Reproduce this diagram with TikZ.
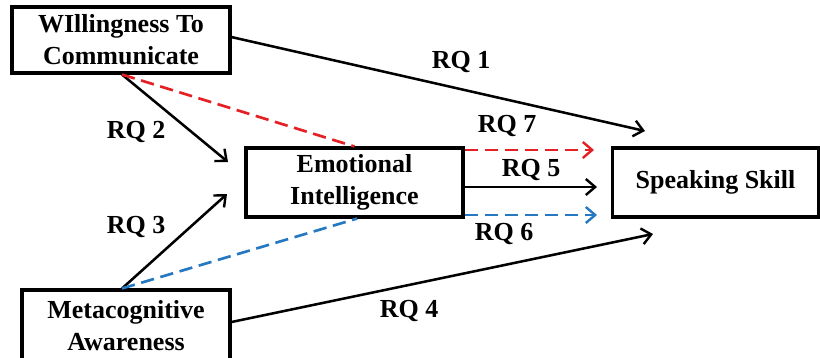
\documentclass[tikz,border=0pt]{standalone}
\usepackage{fontspec}
\setmainfont{Liberation Serif}
\usetikzlibrary{arrows.meta}
\definecolor{rqred}{RGB}{228,32,36}
\definecolor{rqblue}{RGB}{38,120,192}
\tikzset{
  box/.style={draw=black, line width=2.3pt, align=center, inner sep=0pt,
    font=\fontsize{19.5}{24}\selectfont\bfseries},
  rq/.style={font=\fontsize{19.5}{24}\selectfont\bfseries, inner sep=0pt},
  tip/.style={-{Straight Barb[length=7pt,width=12pt,line width=1.8pt]}},
  conn/.style={line width=1.9pt, tip},
  dashline/.style={line width=2pt, dash pattern=on 10pt off 5pt},
}
\begin{document}
\begin{tikzpicture}[x=0.75pt,y=-0.75pt]
\useasboundingbox (0,0) rectangle (820,357);
% boxes
\node[box, minimum width=218*0.75pt, minimum height=66*0.75pt] (wtc) at (121,40) {WIllingness To\\Communicate};
\node[box, minimum width=208*0.75pt, minimum height=72*0.75pt] (meta) at (126,326) {Metacognitive\\Awareness};
\node[box, minimum width=217*0.75pt, minimum height=69*0.75pt] (emo) at (354.5,182.5) {Emotional\\Intelligence};
\node[box, minimum width=206*0.75pt, minimum height=69*0.75pt] (spk) at (715.5,182.5) {Speaking Skill};
% free arrow ends
\coordinate (t1) at (645,131);
\coordinate (t2) at (228,162);
\coordinate (t3) at (227,194);
\coordinate (t4) at (653,234);
\coordinate (t5) at (597,187);
\coordinate (t6) at (597,215);
\coordinate (t7) at (594,150);
\coordinate (wtcs) at ([xshift=0.75pt]wtc.south);
\coordinate (metan) at ([xshift=-3pt]meta.north);
% connectors
\draw[conn] ([yshift=2.2pt]wtc.east) -- (t1);
\draw[conn] (wtcs) -- (t2);
\draw[conn] (metan) -- (t3);
\draw[conn] ([yshift=3pt]meta.east) -- (t4);
\draw[conn] (emo.east |- t5) -- (t5);
\draw[dashline, rqred] (wtcs) -- (emo.north);
\draw[dashline, rqblue] (metan) -- ([xshift=2pt]emo.south);
\draw[dashline, rqred, tip] (emo.east |- t7) -- (t7);
\draw[dashline, rqblue, tip] (emo.east |- t6) -- (t6);
% labels
\node[rq] (l1) at (461,62) {RQ 1};
\node[rq] (l2) at (136,132) {RQ 2};
\node[rq] (l3) at (136,227) {RQ 3};
\node[rq] (l4) at (409,311) {RQ 4};
\node[rq] (l5) at (531,170) {RQ 5};
\node[rq] (l6) at (504,234) {RQ 6};
\node[rq] (l7) at (507,126) {RQ 7};
\end{tikzpicture}
\end{document}
